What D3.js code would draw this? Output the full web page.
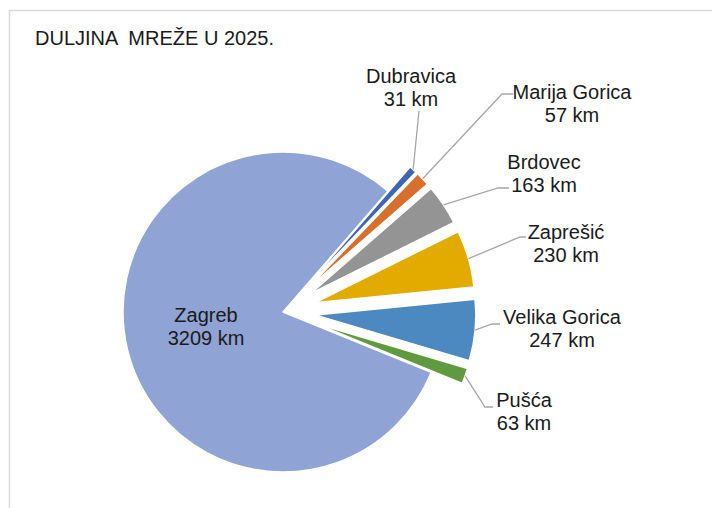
<!DOCTYPE html>
<html>
<head>
<meta charset="utf-8">
<script src="https://cdn.jsdelivr.net/npm/d3@7"></script>
<style>
  html, body { margin: 0; padding: 0; background: #fff; }
  svg text { font-family: "Liberation Sans", Arial, sans-serif; fill: #1a1a1a; }
</style>
</head>
<body>
<div class="chart"></div>
<script>
// data, in the order Excel draws it (clockwise from the first slice)
const cities = ["Dubravica", "Marija Gorica", "Brdovec", "Zaprešić", "Velika Gorica", "Pušća", "Zagreb"];
const lengths = [31, 57, 163, 230, 247, 63, 3209];
const colors = ["#3d67b5", "#d6702c", "#949494", "#e3ab00", "#4c89c0", "#5f9a3e", "#8fa4d4"];

const w = 712, h = 508;
const cx = 283, cy = 312, r = 160;
const explode = 33;

// where each data label sits (text centre x, first line y) and the leader elbow
let labelPos = [
  { x: 411, y: 83, pts: [[419, 111]] },
  { x: 572, y: 99, pts: [[502, 94], [513, 94]] },
  { x: 544, y: 169, pts: [[498, 188], [509, 188]] },
  { x: 566, y: 239, pts: [[520, 237], [526, 237]] },
  { x: 562, y: 324, pts: [[492, 324], [500, 324]] },
  { x: 524, y: 407, pts: [[485, 407], [493, 407]] },
  { x: 206, y: 322, pts: null }
];

const svg = d3.select(".chart")
  .append("svg")
  .attr("width", w)
  .attr("height", h);

// chart frame (only top and left edge are visible)
svg.append("rect")
  .attr("x", 9.5).attr("y", 10.5)
  .attr("width", 720).attr("height", 520)
  .attr("fill", "none")
  .attr("stroke", "#d9d9d9")
  .attr("stroke-width", 1.5);

svg.append("text")
  .attr("x", 35).attr("y", 45)
  .style("font-size", "20px")
  .attr("xml:space", "preserve")
  .text("DULJINA  MREŽE U 2025.");

const pie = d3.pie()
  .sort(null)
  .value(d => d)
  .startAngle(41 * Math.PI / 180)
  .endAngle(41 * Math.PI / 180 + 2 * Math.PI);

const arcs = pie(lengths);
const arc = d3.arc().innerRadius(0).outerRadius(r);

function offset(d, i) {
  if (cities[i] == "Zagreb") return [0, 0];
  let mid = (d.startAngle + d.endAngle) / 2;
  return [Math.sin(mid) * explode, -Math.cos(mid) * explode];
}

const g = svg.append("g").attr("transform", "translate(" + cx + "," + cy + ")");

g.selectAll("path.slice")
  .data(arcs)
  .enter()
  .append("path")
  .attr("class", "slice")
  .attr("d", arc)
  .attr("transform", (d, i) => "translate(" + offset(d, i).join(",") + ")")
  .attr("fill", (d, i) => colors[i])
  .attr("stroke", "#fff")
  .attr("stroke-width", 1.5)
  .attr("stroke-linejoin", "round");

// leader lines
arcs.forEach((d, i) => {
  let lp = labelPos[i];
  if (!lp.pts) return;
  let o = offset(d, i);
  let mid = (d.startAngle + d.endAngle) / 2;
  let sx = cx + o[0] + Math.sin(mid) * r;
  let sy = cy + o[1] - Math.cos(mid) * r;
  let line = [[sx, sy]].concat(lp.pts);
  svg.append("path")
    .attr("d", d3.line()(line))
    .attr("fill", "none")
    .attr("stroke", "#a6a6a6")
    .attr("stroke-width", 1.3);
});

// labels
const lab = svg.selectAll("text.lbl")
  .data(arcs)
  .enter()
  .append("text")
  .attr("class", "lbl")
  .attr("text-anchor", "middle")
  .style("font-size", "20px");

lab.append("tspan")
  .attr("x", (d, i) => labelPos[i].x)
  .attr("y", (d, i) => labelPos[i].y)
  .text((d, i) => cities[i]);

lab.append("tspan")
  .attr("x", (d, i) => labelPos[i].x)
  .attr("y", (d, i) => labelPos[i].y + 23)
  .text((d, i) => lengths[i] + " km");
</script>
</body>
</html>
